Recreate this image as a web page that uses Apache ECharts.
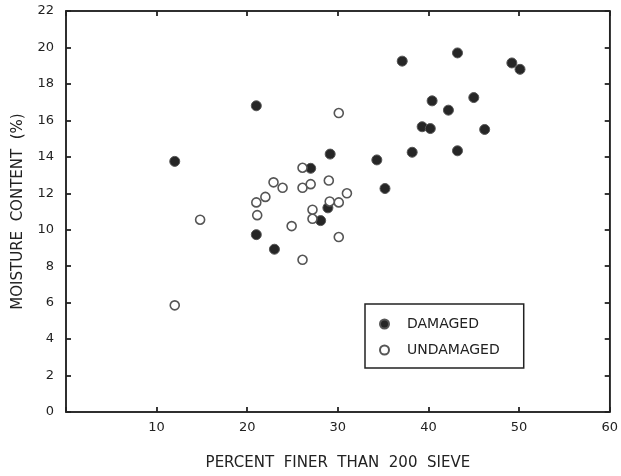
<!DOCTYPE html>
<html>
<head>
<meta charset="utf-8">
<script src="https://cdn.jsdelivr.net/npm/echarts@6/dist/echarts.min.js"></script>
<style>
  html, body { margin: 0; padding: 0; background: #fff; }
  #chart { width: 621px; height: 476px; }
</style>
</head>
<body>
<div id="chart"></div>
<script>
// percent finer than 200 sieve (x) and moisture content % (y)
var damagedX = [21, 12, 29.15, 27, 28.9, 28.1, 21, 23, 37.1, 43.2, 49.2, 50.1, 40.4, 45, 42.2, 39.3, 40.2, 46.2, 43.2, 38.2, 34.3, 35.2];
var damagedY = [16.8, 13.75, 14.15, 13.37, 11.2, 10.5, 9.73, 8.93, 19.25, 19.7, 19.15, 18.8, 17.07, 17.25, 16.56, 15.65, 15.55, 15.5, 14.33, 14.25, 13.83, 12.26];
var undamagedX = [26.1, 22.9, 23.9, 26.1, 27, 29, 31, 30.1, 29.1, 22, 21, 21.1, 27.2, 27.2, 24.9, 30.1, 26.1, 30.1, 14.8, 12];
var undamagedY = [13.4, 12.6, 12.3, 12.3, 12.5, 12.7, 12, 11.5, 11.55, 11.8, 11.5, 10.8, 11.1, 10.6, 10.2, 9.6, 8.35, 16.4, 10.55, 5.85];

function pairs(xs, ys) {
  var out = [];
  for (var i = 0; i < xs.length; i++) out.push([xs[i], ys[i]]);
  return out;
}

var chart = echarts.init(document.getElementById("chart"));
var font = "DejaVu Sans";
function axisLine() {
  return { show: true, onZero: false, lineStyle: { color: "#222", width: 1.5 } };
}
function tick() {
  return { show: true, inside: true, length: 5, lineStyle: { color: "#222", width: 1.8 } };
}

var option = {
  animation: false,
  backgroundColor: "#fff",
  textStyle: { fontFamily: font },
  grid: { left: 66, right: 10, top: 11, bottom: 63, show: true, borderColor: "#222", borderWidth: 1.5 },
  legend: {
    orient: "vertical",
    left: 365,
    top: 304,
    padding: [13, 24, 11, 14],
    borderColor: "#222",
    borderWidth: 1.5,
    itemWidth: 9,
    itemHeight: 9,
    itemGap: 12,
    textStyle: { fontFamily: font, fontSize: 14, color: "#222", padding: [0, 0, 0, 13] },
    data: ["DAMAGED", "UNDAMAGED"]
  },
  xAxis: [{
    type: "value", gridIndex: 0, min: 0, max: 60, interval: 10,
    name: "PERCENT  FINER  THAN  200  SIEVE",
    nameLocation: "middle", nameGap: 44,
    nameTextStyle: { fontFamily: font, fontSize: 15, color: "#222" },
    axisLine: axisLine(), axisTick: tick(), splitLine: { show: false },
    axisLabel: { fontFamily: font, fontSize: 13, color: "#222", margin: 9,
      formatter: function (v) { return v === 0 ? "" : v; } }
  }, {
    // same scale on top, only for the inward ticks
    type: "value", gridIndex: 0, min: 0, max: 60, interval: 10, position: "top",
    axisLine: axisLine(), axisTick: tick(), axisLabel: { show: false }, splitLine: { show: false }
  }],
  yAxis: [{
    type: "value", gridIndex: 0, min: 0, max: 22, interval: 2,
    name: "MOISTURE  CONTENT  (%)",
    nameLocation: "middle", nameGap: 40,
    nameTextStyle: { fontFamily: font, fontSize: 15, color: "#222" },
    axisLine: axisLine(), axisTick: tick(), splitLine: { show: false },
    axisLabel: { fontFamily: font, fontSize: 13, color: "#222", margin: 12 }
  }, {
    // same scale on right, only for the inward ticks
    type: "value", gridIndex: 0, min: 0, max: 22, interval: 2, position: "right",
    axisLine: axisLine(), axisTick: tick(), axisLabel: { show: false }, splitLine: { show: false }
  }],
  series: [
    {
      name: "DAMAGED",
      type: "scatter",
      symbol: "circle",
      symbolSize: 10,
      itemStyle: { color: "#262626", borderColor: "#555", borderWidth: 1, opacity: 1 },
      data: pairs(damagedX, damagedY)
    },
    {
      name: "UNDAMAGED",
      type: "scatter",
      xAxisIndex: 1,
      yAxisIndex: 1,
      symbol: "circle",
      symbolSize: 9,
      itemStyle: { color: "#fff", borderColor: "#555", borderWidth: 1.6, opacity: 1 },
      data: pairs(undamagedX, undamagedY)
    }
  ]
};
chart.setOption(option);
</script>
</body>
</html>
